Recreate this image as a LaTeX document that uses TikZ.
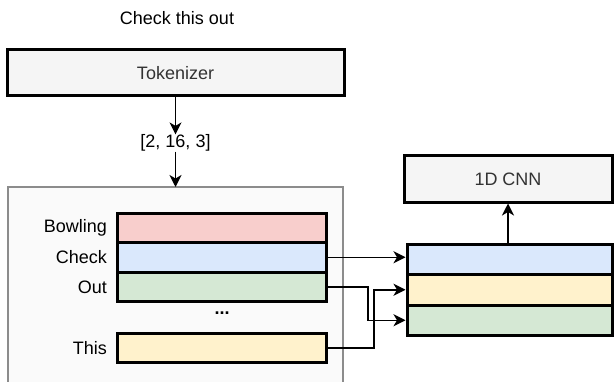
\documentclass[tikz,border=0pt]{standalone}
\usepackage{fontspec}
\setmainfont{Liberation Sans}
\usetikzlibrary{arrows.meta}
\definecolor{boxfill}{HTML}{F5F5F5}
\definecolor{boxtext}{HTML}{333333}
\definecolor{outerfill}{HTML}{FAFAFA}
\definecolor{outerdraw}{HTML}{8C8C8C}
\definecolor{cred}{HTML}{F8CECC}
\definecolor{cblue}{HTML}{DAE8FC}
\definecolor{cgreen}{HTML}{D5E8D4}
\definecolor{cyellow}{HTML}{FFF2CC}
\begin{document}
\begin{tikzpicture}[x=1pt,y=-1pt,
  every node/.style={font=\fontsize{18}{22}\selectfont, inner sep=0pt},
  bigbox/.style={draw=black, line width=3pt, fill=boxfill, text=boxtext, rectangle},
  bar/.style={draw=black, line width=3pt, rectangle, minimum width=209pt, minimum height=29.5pt},
  rbar/.style={draw=black, line width=3pt, rectangle, minimum width=205pt, minimum height=30.5pt},
  lbl/.style={anchor=east},
  conn/.style={line width=1.5pt, -{Stealth[length=12pt,width=12pt,inset=3.5pt]}},
  wire/.style={line width=1.5pt}
]
\useasboundingbox (0,0) rectangle (615,382);
% title
\node (title) at (177,18) {Check this out};
% tokenizer
\node[bigbox, minimum width=337pt, minimum height=46pt] (tok) at (175.5,73) {Tokenizer};
\node (ids) at (175.5,143) {[2, 16, 3]};
% outer container
\draw[draw=outerdraw, fill=outerfill, line width=2pt] (8,187) rectangle (343,400);
\coordinate (outtop) at (175.5,187);
% bars
\node[bar, fill=cred] (bowl) at (221.5,227.75) {};
\node[bar, fill=cblue] (check) at (221.5,257.25) {};
\node[bar, fill=cgreen] (outb) at (221.5,286.75) {};
\node[bar, fill=cyellow] (this) at (221.5,348) {};
\node (dots) at (222,313) {\textbf{...}};
% labels
\node[lbl] (lbowl) at (107,228) {Bowling};
\node[lbl] (lcheck) at (107,257) {Check};
\node[lbl] (lout) at (107,287) {Out};
\node[lbl] (lthis) at (107,348) {This};
% right stack
\node[rbar, fill=cblue] (s1) at (509.5,259.25) {};
\node[rbar, fill=cyellow] (s2) at (509.5,289.75) {};
\node[rbar, fill=cgreen] (s3) at (509.5,320.25) {};
% CNN
\node[bigbox, minimum width=208pt, minimum height=46pt] (cnn) at (508,179) {1D CNN};
% connectors
\draw[conn] (tok.south) -- (ids.north);
\draw[conn] (ids.south) -- (outtop);
\draw[conn] (s1.north -| cnn.south) -- (cnn.south);
\draw[conn] (check.east) -- (check.east -| s1.west);
\draw[conn] (outb.east) -- (368,286.75) |- (s3.west);
\draw[conn] (this.east) -- (374,348) |- (s2.west);
\end{tikzpicture}
\end{document}
